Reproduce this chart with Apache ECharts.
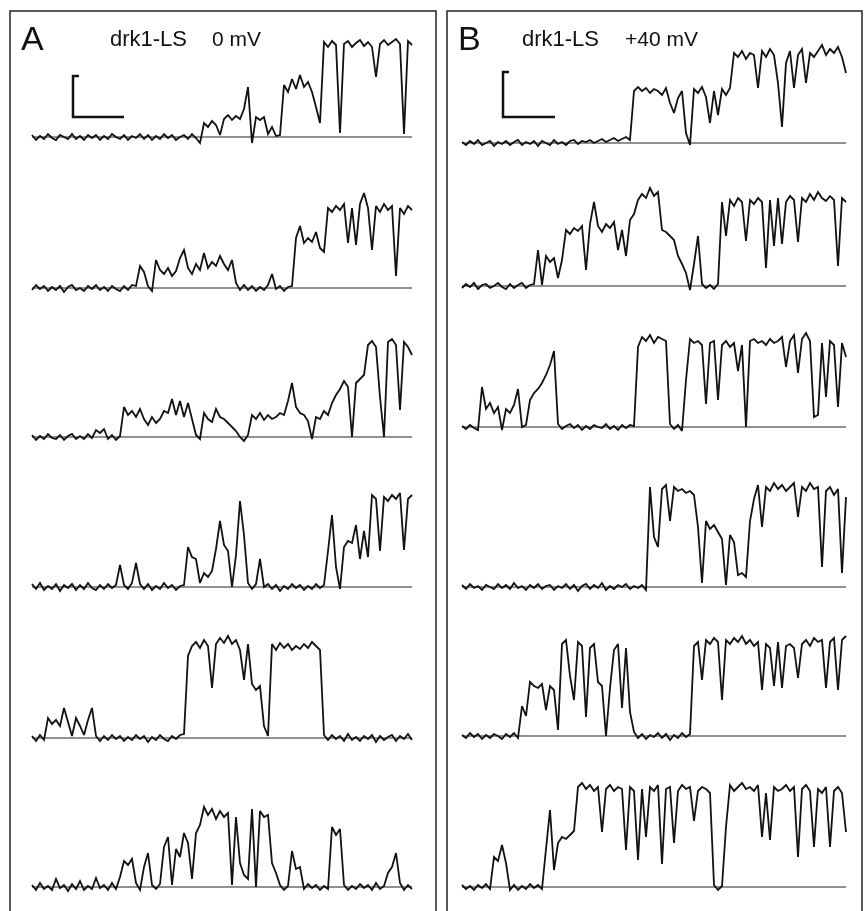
<!DOCTYPE html>
<html><head><meta charset="utf-8">
<script src="https://cdn.jsdelivr.net/npm/echarts/dist/echarts.min.js"></script>
<style>html,body{margin:0;padding:0;background:#fff}#c{width:864px;height:911px}</style>
</head><body><div id="c"></div>
<script>
// Panel titles and labels
const panelLabels = ['A', 'B'];
const panelConstructs = ['drk1-LS', 'drk1-LS'];
const panelVoltages = ['0 mV', '+40 mV'];

// Current traces (amplitude above closed level, arbitrary units), panel A (0 mV)
const traceA1 = [2,-3,1,-2,3,-1,-3,2,0,-2,3,-2,1,-3,2,-1,2,-3,1,-2,3,0,-2,2,-3,1,-1,3,-2,2,-3,1,-2,3,-1,2,-3,0,2,-2,3,-1,-6,
14,10,16,12,2,18,22,17,21,18,28,50,-6,20,17,20,3,10,1,2,52,45,58,48,62,50,55,45,30,14,95,90,96,92,4,93,96,90,94,97,91,95,90,60,93,97,92,95,98,93,3,96,92];
const traceA2 = [-2,3,-1,2,-3,1,-2,2,-4,1,3,-2,0,-3,2,-1,3,-2,1,-3,2,-1,-3,2,-2,3,
2,22,16,2,-3,28,18,14,20,12,17,30,38,20,14,24,18,35,20,26,22,32,24,18,28,5,-2,
3,-2,2,-3,1,-2,3,14,-1,2,-3,1,2,
50,62,45,50,46,56,40,36,80,76,82,78,84,45,80,43,84,95,80,38,82,76,84,78,82,12,80,74,82,78];
const traceA3 = [2,-3,1,-2,3,-1,-2,2,-3,1,3,-2,1,-2,3,-1,7,4,8,-2,2,-3,1,
30,22,26,20,28,18,12,20,14,18,26,24,38,22,36,20,34,18,2,-2,24,18,15,28,20,18,14,10,6,0,-4,2,22,18,24,17,22,18,20,24,22,36,54,30,24,22,16,-2,20,18,26,22,34,42,48,56,50,0,54,58,62,92,96,90,40,0,95,98,92,27,95,90,82];
const traceA4 = [3,-2,4,-3,1,-2,3,-4,2,-1,3,-3,2,-2,4,-1,-3,2,-2,3,-1,2,
22,2,-2,4,24,3,
-2,3,-3,1,-2,4,-1,2,-3,1,
2,40,30,28,4,14,10,16,38,66,42,36,0,32,86,52,4,-2,3,28,0,
3,-2,2,-4,1,-2,3,-1,2,-3,1,-2,3,-1,2,
36,72,20,-2,40,46,44,62,28,56,30,92,88,36,90,86,92,88,94,37,88,92];
const traceA5 = [2,-3,3,-2,20,14,18,12,30,16,2,20,12,3,18,30,2,
-3,2,-2,3,-1,2,-3,1,-2,3,-1,2,-4,1,-2,3,-1,-3,2,-1,3,
4,82,92,96,90,98,92,50,94,100,95,102,94,98,88,58,94,54,48,52,12,2,94,88,95,90,94,88,92,89,94,90,96,92,88,3,
-2,3,-1,2,-3,4,-2,1,-3,2,-1,3,-4,2,-2,1,3,-3,2,-1,4,-2];
const traceA6 = [2,-3,4,-2,1,-3,8,-1,2,-4,3,-2,6,-3,1,-2,9,-1,2,-3,4,-2,10,
26,22,28,4,-3,20,34,2,-2,3,40,50,2,38,30,54,44,8,54,62,80,72,78,68,76,70,74,2,70,24,12,8,78,0,76,70,72,24,14,2,
-3,1,36,18,20,-2,3,-1,2,-3,1,-2,60,52,58,2,-3,1,-2,3,-1,2,-3,4,-2,1,14,20,34,4,-3,2,-2];

// Panel B (+40 mV)
const traceB1 = [1,-2,2,-1,3,-2,0,2,-3,1,-1,2,-2,1,3,-2,1,-1,2,-3,2,0,-2,3,-1,1,-2,2,3,-1,2,1,3,0,2,4,1,3,5,2,4,6,3,
52,56,52,55,50,54,52,48,55,40,30,45,52,10,-2,54,50,56,46,20,52,28,54,48,55,90,86,92,84,90,88,55,92,86,94,88,60,16,80,92,55,88,94,60,90,86,92,98,88,94,90,96,86,70];
const traceB2 = [-2,2,-1,3,-3,1,2,-2,0,3,-1,-3,2,-2,1,3,-2,1,
2,36,1,30,24,28,8,26,56,52,58,55,60,16,62,84,60,54,62,58,64,36,56,30,66,72,86,92,88,98,90,94,56,54,50,46,30,22,13,-4,22,50,2,-2,1,-3,2,
84,50,86,80,88,84,45,86,82,88,84,18,86,40,88,42,84,90,86,44,88,84,92,86,94,88,85,90,86,20,88,84];
const traceB3 = [1,-2,2,-1,-3,
40,18,24,14,20,-3,18,14,22,38,0,2,27,34,38,44,52,62,76,3,
-2,1,3,-1,2,-3,1,-2,2,0,-1,3,-2,1,-3,2,-1,2,1,
80,90,86,92,84,90,88,86,3,-2,2,-4,47,88,84,86,82,23,84,86,27,82,86,80,84,56,82,0,86,88,84,86,82,88,84,86,90,60,86,92,54,88,94,86,10,12,84,30,86,82,20,84,70];
const traceB4 = [2,-2,3,-1,1,-3,2,0,-2,3,-1,2,-2,4,-1,1,-3,2,-1,3,-2,1,2,-3,1,-1,3,-2,2,-4,1,3,-2,2,-1,4,-3,1,-2,2,0,3,-2,1,-1,2,-3,
100,50,40,98,102,66,100,96,98,94,96,92,60,4,66,58,62,55,48,2,52,45,12,14,10,66,88,102,60,100,96,104,98,102,96,100,104,70,100,96,104,98,100,20,96,100,92,98,14,90];
const traceB5 = [1,-2,3,-1,2,-3,1,-2,2,0,-3,2,-1,3,-2,
30,20,54,50,48,52,26,50,46,6,92,96,60,36,94,90,19,88,92,54,50,0,48,86,92,28,88,24,4,
-2,2,-3,1,-1,3,-2,2,-4,1,-2,3,-1,2,
90,94,56,96,92,98,94,36,96,92,98,94,100,92,96,90,94,46,92,88,50,94,48,90,92,88,58,92,96,90,98,94,96,48,94,98,46,96,100];
const traceB6 = [2,-2,1,-3,2,-1,3,-2,
30,26,42,24,-3,
2,-3,1,-2,3,-1,2,-2,
38,77,17,44,50,48,52,56,100,104,98,102,96,100,55,98,102,96,100,98,37,100,96,27,98,50,100,96,102,23,98,100,44,96,102,98,100,66,96,100,98,94,2,-3,1,60,102,96,100,104,98,100,96,102,50,94,47,100,96,98,102,96,100,30,98,102,96,40,98,94,100,40,96,100,94,55];

const tracesA = [traceA1, traceA2, traceA3, traceA4, traceA5, traceA6];
const tracesB = [traceB1, traceB2, traceB3, traceB4, traceB5, traceB6];

// layout (pixel positions of the closed level of each sweep)
const layout = {
  A: {left: 32, step: 4, base: [137, 288, 437, 587, 738, 887]},
  B: {left: 462, step: 4, base: [143, 286, 427, 587, 736, 887]}
};
const Y_MIN = -15, Y_MAX = 110;

const grids = [], xAxes = [], yAxes = [], series = [];
function addPanel(traces, lay) {
  traces.forEach((tr, k) => {
    const idx = grids.length;
    const n = tr.length;
    grids.push({left: lay.left, top: lay.base[k] - Y_MAX, width: (n - 1) * lay.step, height: Y_MAX - Y_MIN, containLabel: false});
    xAxes.push({type: 'value', gridIndex: idx, min: 0, max: n - 1, show: false});
    yAxes.push({type: 'value', gridIndex: idx, min: Y_MIN, max: Y_MAX, show: false});
    series.push({type: 'line', xAxisIndex: idx, yAxisIndex: idx, data: [[0, 0], [n - 1, 0]],
      showSymbol: false, silent: true, lineStyle: {color: '#222', width: 1}, z: 1});
    series.push({type: 'line', xAxisIndex: idx, yAxisIndex: idx, data: tr.map((v, i) => [i, v]),
      showSymbol: false, silent: true, lineStyle: {color: '#111', width: 1.8, join: 'miter', miterLimit: 3}, z: 2});
  });
}
addPanel(tracesA, layout.A);
addPanel(tracesB, layout.B);

const FONT = '"Liberation Sans", Arial, Helvetica, sans-serif';
const graphic = [
  {type: 'rect', shape: {x: 10, y: 11, width: 426, height: 920}, style: {fill: 'none', stroke: '#222', lineWidth: 1.5}},
  {type: 'rect', shape: {x: 447, y: 11, width: 415, height: 920}, style: {fill: 'none', stroke: '#222', lineWidth: 1.5}},
  {type: 'text', x: 21, y: 41, style: {text: panelLabels[0], font: '34px ' + FONT, fill: '#111', verticalAlign: 'middle', align: 'left'}},
  {type: 'text', x: 458, y: 41, style: {text: panelLabels[1], font: '34px ' + FONT, fill: '#111', verticalAlign: 'middle', align: 'left'}},
  {type: 'text', x: 110, y: 40, style: {text: panelConstructs[0], font: '22px ' + FONT, fill: '#111', verticalAlign: 'middle', align: 'left'}},
  {type: 'text', x: 212, y: 40, style: {text: panelVoltages[0], font: '21px ' + FONT, fill: '#111', verticalAlign: 'middle', align: 'left'}},
  {type: 'text', x: 522, y: 40, style: {text: panelConstructs[1], font: '22px ' + FONT, fill: '#111', verticalAlign: 'middle', align: 'left'}},
  {type: 'text', x: 625, y: 40, style: {text: panelVoltages[1], font: '21px ' + FONT, fill: '#111', verticalAlign: 'middle', align: 'left'}},
  {type: 'polyline', shape: {points: [[79, 76], [73, 76], [73, 117], [124, 117]]}, style: {fill: 'none', stroke: '#111', lineWidth: 2.5}},
  {type: 'polyline', shape: {points: [[509, 72], [503, 72], [503, 117], [555, 117]]}, style: {fill: 'none', stroke: '#111', lineWidth: 2.5}}
];

const chart = echarts.init(document.getElementById('c'), null, {renderer: 'canvas'});
chart.setOption({animation: false, backgroundColor: '#fff', grid: grids, xAxis: xAxes, yAxis: yAxes, series: series, graphic: graphic});
</script></body></html>
